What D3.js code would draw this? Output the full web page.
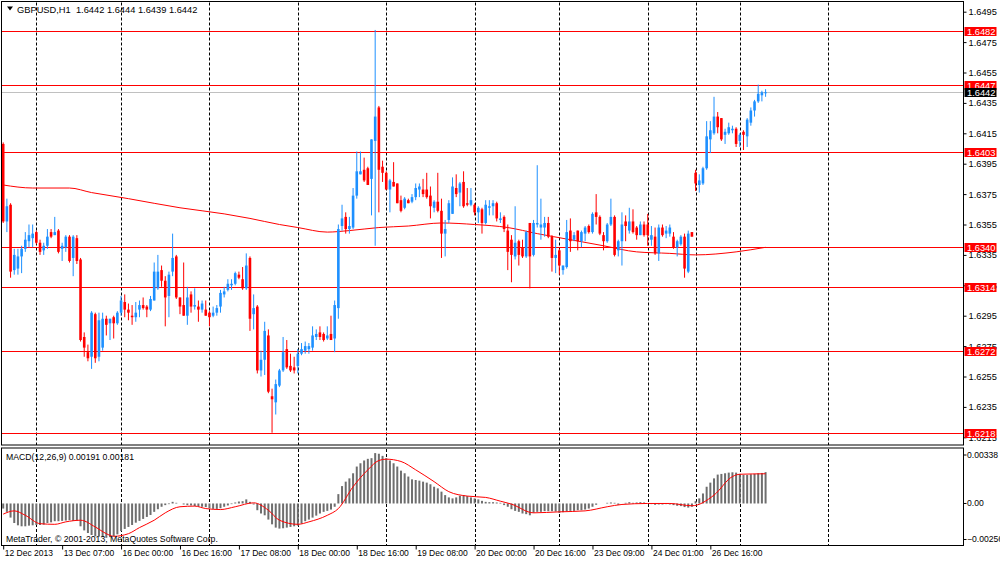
<!DOCTYPE html>
<html>
<head>
<meta charset="utf-8">
<script src="https://cdn.jsdelivr.net/npm/d3@7"></script>
<style>
  html, body { margin: 0; padding: 0; background: #fff; }
  svg { display: block; font-family: "Liberation Sans", Arial, sans-serif; font-size: 8.5px; }
</style>
</head>
<body>
<div id="container"></div>
<script>
// GBPUSD H1, 12 Dec 2013 15:00 .. 27 Dec 2013 07:00 (one value per bar)
const open = [
  1.6408, 1.6357, 1.6368, 1.6325, 1.6326, 1.6334, 1.6339, 1.6344, 1.6346, 1.6350,
  1.6343, 1.6338, 1.6341, 1.6350, 1.6348, 1.6351, 1.6339, 1.6340, 1.6347, 1.6333,
  1.6346, 1.6332, 1.6281, 1.6271, 1.6268, 1.6296, 1.6268, 1.6274, 1.6293, 1.6290,
  1.6294, 1.6290, 1.6297, 1.6304, 1.6299, 1.6295, 1.6294, 1.6299, 1.6302, 1.6301,
  1.6299, 1.6305, 1.6313, 1.6325, 1.6318, 1.6308, 1.6324, 1.6334, 1.6307, 1.6302,
  1.6295, 1.6309, 1.6301, 1.6301, 1.6299, 1.6299, 1.6297, 1.6295, 1.6297, 1.6301,
  1.6309, 1.6312, 1.6315, 1.6316, 1.6322, 1.6319, 1.6313, 1.6333, 1.6296, 1.6301,
  1.6259, 1.6266, 1.6282, 1.6242, 1.6238, 1.6249, 1.6259, 1.6273, 1.6262, 1.6261,
  1.6262, 1.6270, 1.6272, 1.6273, 1.6274, 1.6281, 1.6284, 1.6283, 1.6280, 1.6283,
  1.6280, 1.6300, 1.6354, 1.6360, 1.6352, 1.6353, 1.6374, 1.6388, 1.6391, 1.6392,
  1.6385, 1.6410, 1.6432, 1.6393, 1.6389, 1.6378, 1.6383, 1.6382, 1.6371, 1.6366,
  1.6371, 1.6370, 1.6373, 1.6378, 1.6378, 1.6378, 1.6374, 1.6366, 1.6370, 1.6364,
  1.6349, 1.6358, 1.6362, 1.6379, 1.6376, 1.6383, 1.6369, 1.6368, 1.6368, 1.6363,
  1.6365, 1.6356, 1.6366, 1.6367, 1.6369, 1.6358, 1.6360, 1.6351, 1.6345, 1.6334,
  1.6344, 1.6340, 1.6334, 1.6356, 1.6335, 1.6355, 1.6353, 1.6353, 1.6356, 1.6347,
  1.6333, 1.6338, 1.6325, 1.6327, 1.6351, 1.6345, 1.6351, 1.6344, 1.6349, 1.6354,
  1.6350, 1.6363, 1.6360, 1.6348, 1.6344, 1.6355, 1.6360, 1.6338, 1.6344, 1.6357,
  1.6351, 1.6357, 1.6353, 1.6348, 1.6355, 1.6355, 1.6345, 1.6347, 1.6336, 1.6353,
  1.6349, 1.6349, 1.6347, 1.6340, 1.6342, 1.6347, 1.6324, 1.6350, 1.6389, 1.6381,
  1.6382, 1.6392, 1.6411, 1.6415, 1.6426, 1.6425, 1.6414, 1.6415, 1.6417, 1.6418,
  1.6410, 1.6416, 1.6413, 1.6422, 1.6430, 1.6436, 1.6440, 1.6442
];
const high = [
  1.6409, 1.6372, 1.6369, 1.6339, 1.6339, 1.6341, 1.6350, 1.6355, 1.6355, 1.6351,
  1.6345, 1.6343, 1.6352, 1.6352, 1.6360, 1.6352, 1.6343, 1.6348, 1.6348, 1.6348,
  1.6348, 1.6333, 1.6284, 1.6276, 1.6298, 1.6297, 1.6297, 1.6297, 1.6295, 1.6293,
  1.6295, 1.6298, 1.6308, 1.6309, 1.6303, 1.6302, 1.6304, 1.6305, 1.6307, 1.6302,
  1.6308, 1.6330, 1.6335, 1.6328, 1.6321, 1.6324, 1.6349, 1.6335, 1.6307, 1.6330,
  1.6314, 1.6311, 1.6313, 1.6305, 1.6305, 1.6305, 1.6298, 1.6301, 1.6302, 1.6312,
  1.6314, 1.6319, 1.6319, 1.6324, 1.6324, 1.6327, 1.6336, 1.6334, 1.6309, 1.6302,
  1.6272, 1.6291, 1.6286, 1.6247, 1.6253, 1.6260, 1.6281, 1.6279, 1.6270, 1.6268,
  1.6273, 1.6277, 1.6278, 1.6277, 1.6288, 1.6286, 1.6288, 1.6284, 1.6288, 1.6295,
  1.6305, 1.6355, 1.6368, 1.6363, 1.6360, 1.6379, 1.6403, 1.6403, 1.6399, 1.6393,
  1.6411, 1.6483, 1.6433, 1.6397, 1.6390, 1.6385, 1.6396, 1.6382, 1.6374, 1.6373,
  1.6372, 1.6375, 1.6382, 1.6382, 1.6385, 1.6389, 1.6380, 1.6371, 1.6389, 1.6372,
  1.6358, 1.6371, 1.6386, 1.6388, 1.6383, 1.6390, 1.6379, 1.6379, 1.6369, 1.6367,
  1.6366, 1.6371, 1.6371, 1.6371, 1.6370, 1.6363, 1.6361, 1.6355, 1.6348, 1.6367,
  1.6345, 1.6345, 1.6351, 1.6356, 1.6358, 1.6394, 1.6372, 1.6360, 1.6360, 1.6348,
  1.6345, 1.6339, 1.6328, 1.6358, 1.6359, 1.6350, 1.6351, 1.6351, 1.6354, 1.6355,
  1.6363, 1.6375, 1.6361, 1.6350, 1.6356, 1.6372, 1.6361, 1.6345, 1.6363, 1.6361,
  1.6366, 1.6365, 1.6354, 1.6357, 1.6357, 1.6362, 1.6354, 1.6353, 1.6355, 1.6355,
  1.6354, 1.6355, 1.6350, 1.6345, 1.6348, 1.6349, 1.6351, 1.6350, 1.6391, 1.6388,
  1.6393, 1.6423, 1.6423, 1.6439, 1.6429, 1.6425, 1.6418, 1.6422, 1.6420, 1.6419,
  1.6415, 1.6417, 1.6425, 1.6432, 1.6437, 1.6447, 1.6443, 1.6444
];
const low = [
  1.6356, 1.6350, 1.6320, 1.6322, 1.6322, 1.6323, 1.6337, 1.6340, 1.6340, 1.6342,
  1.6335, 1.6335, 1.6339, 1.6346, 1.6348, 1.6336, 1.6331, 1.6337, 1.6330, 1.6321,
  1.6329, 1.6278, 1.6268, 1.6265, 1.6260, 1.6264, 1.6265, 1.6272, 1.6282, 1.6279,
  1.6280, 1.6289, 1.6295, 1.6294, 1.6292, 1.6289, 1.6291, 1.6294, 1.6299, 1.6294,
  1.6298, 1.6305, 1.6312, 1.6314, 1.6288, 1.6294, 1.6321, 1.6306, 1.6296, 1.6295,
  1.6289, 1.6297, 1.6299, 1.6291, 1.6297, 1.6295, 1.6288, 1.6294, 1.6295, 1.6297,
  1.6307, 1.6311, 1.6312, 1.6315, 1.6319, 1.6312, 1.6312, 1.6285, 1.6286, 1.6257,
  1.6255, 1.6256, 1.6244, 1.6218, 1.6230, 1.6248, 1.6258, 1.6260, 1.6258, 1.6257,
  1.6257, 1.6269, 1.6270, 1.6270, 1.6272, 1.6279, 1.6279, 1.6278, 1.6279, 1.6279,
  1.6271, 1.6293, 1.6351, 1.6349, 1.6349, 1.6352, 1.6372, 1.6388, 1.6383, 1.6381,
  1.6361, 1.6341, 1.6363, 1.6383, 1.6378, 1.6363, 1.6380, 1.6369, 1.6363, 1.6365,
  1.6369, 1.6369, 1.6371, 1.6373, 1.6373, 1.6372, 1.6359, 1.6363, 1.6363, 1.6333,
  1.6334, 1.6356, 1.6362, 1.6373, 1.6367, 1.6366, 1.6367, 1.6367, 1.6361, 1.6356,
  1.6349, 1.6355, 1.6361, 1.6361, 1.6357, 1.6356, 1.6350, 1.6325, 1.6317, 1.6332,
  1.6328, 1.6333, 1.6333, 1.6313, 1.6334, 1.6353, 1.6345, 1.6347, 1.6346, 1.6324,
  1.6323, 1.6322, 1.6322, 1.6326, 1.6337, 1.6344, 1.6338, 1.6340, 1.6344, 1.6349,
  1.6349, 1.6355, 1.6348, 1.6338, 1.6343, 1.6354, 1.6334, 1.6334, 1.6328, 1.6344,
  1.6349, 1.6349, 1.6345, 1.6348, 1.6347, 1.6341, 1.6341, 1.6335, 1.6331, 1.6347,
  1.6346, 1.6347, 1.6339, 1.6334, 1.6341, 1.6320, 1.6323, 1.6347, 1.6377, 1.6376,
  1.6381, 1.6391, 1.6402, 1.6414, 1.6415, 1.6410, 1.6408, 1.6414, 1.6415, 1.6406,
  1.6406, 1.6404, 1.6406, 1.6420, 1.6426, 1.6435, 1.6436, 1.6439
];
const close = [
  1.6357, 1.6367, 1.6324, 1.6335, 1.6334, 1.6339, 1.6345, 1.6348, 1.6349, 1.6343,
  1.6337, 1.6341, 1.6347, 1.6347, 1.6350, 1.6337, 1.6341, 1.6347, 1.6331, 1.6347,
  1.6331, 1.6279, 1.6274, 1.6267, 1.6297, 1.6267, 1.6292, 1.6293, 1.6289, 1.6293,
  1.6290, 1.6297, 1.6305, 1.6299, 1.6297, 1.6294, 1.6297, 1.6302, 1.6300, 1.6299,
  1.6306, 1.6324, 1.6324, 1.6318, 1.6307, 1.6322, 1.6333, 1.6307, 1.6301, 1.6295,
  1.6307, 1.6301, 1.6302, 1.6299, 1.6303, 1.6295, 1.6294, 1.6297, 1.6300, 1.6310,
  1.6311, 1.6316, 1.6316, 1.6323, 1.6320, 1.6313, 1.6328, 1.6293, 1.6300, 1.6259,
  1.6266, 1.6285, 1.6245, 1.6240, 1.6250, 1.6259, 1.6271, 1.6261, 1.6259, 1.6259,
  1.6270, 1.6273, 1.6275, 1.6275, 1.6282, 1.6283, 1.6281, 1.6279, 1.6282, 1.6279,
  1.6302, 1.6352, 1.6359, 1.6352, 1.6354, 1.6374, 1.6390, 1.6390, 1.6384, 1.6381,
  1.6411, 1.6426, 1.6391, 1.6389, 1.6378, 1.6384, 1.6380, 1.6369, 1.6364, 1.6372,
  1.6369, 1.6373, 1.6379, 1.6380, 1.6375, 1.6373, 1.6367, 1.6370, 1.6364, 1.6349,
  1.6352, 1.6369, 1.6380, 1.6375, 1.6382, 1.6367, 1.6368, 1.6371, 1.6363, 1.6366,
  1.6356, 1.6368, 1.6367, 1.6369, 1.6359, 1.6359, 1.6352, 1.6337, 1.6335, 1.6343,
  1.6335, 1.6334, 1.6350, 1.6334, 1.6356, 1.6356, 1.6355, 1.6356, 1.6347, 1.6333,
  1.6335, 1.6328, 1.6328, 1.6350, 1.6344, 1.6348, 1.6344, 1.6350, 1.6353, 1.6350,
  1.6362, 1.6360, 1.6349, 1.6344, 1.6355, 1.6360, 1.6335, 1.6344, 1.6355, 1.6354,
  1.6357, 1.6350, 1.6348, 1.6355, 1.6348, 1.6348, 1.6348, 1.6336, 1.6353, 1.6348,
  1.6351, 1.6353, 1.6340, 1.6344, 1.6347, 1.6326, 1.6349, 1.6347, 1.6382, 1.6384,
  1.6392, 1.6413, 1.6417, 1.6426, 1.6419, 1.6411, 1.6416, 1.6419, 1.6418, 1.6408,
  1.6414, 1.6414, 1.6424, 1.6430, 1.6436, 1.6441, 1.6442, 1.6442
];

// MACD(12,26,9) main values, one per bar
const macd = [
  -0.00031, -0.00051, -0.00086, -0.00119, -0.00133, -0.00139, -0.00139, -0.00135, -0.00133, -0.00131,
  -0.00131, -0.00129, -0.00119, -0.00115, -0.00108, -0.00108, -0.00106, -0.00104, -0.00102, -0.00106,
  -0.00106, -0.00139, -0.00164, -0.00180, -0.00192, -0.00200, -0.00202, -0.00205, -0.00209, -0.00205,
  -0.00200, -0.00188, -0.00168, -0.00155, -0.00143, -0.00131, -0.00117, -0.00106, -0.00094, -0.00082,
  -0.00070, -0.00051, -0.00035, -0.00020, -0.00010, -0.00004, 0.00010, 0.00004, 0.00000, -0.00006,
  -0.00010, -0.00012, -0.00016, -0.00018, -0.00020, -0.00022, -0.00029, -0.00033, -0.00033, -0.00029,
  -0.00020, -0.00012, -0.00004, 0.00006, 0.00012, 0.00014, 0.00025, 0.00010, -0.00006, -0.00041,
  -0.00061, -0.00072, -0.00098, -0.00127, -0.00147, -0.00153, -0.00151, -0.00147, -0.00143, -0.00139,
  -0.00135, -0.00123, -0.00108, -0.00098, -0.00086, -0.00074, -0.00061, -0.00051, -0.00045, -0.00037,
  -0.00020, 0.00057, 0.00106, 0.00133, 0.00153, 0.00184, 0.00225, 0.00245, 0.00262, 0.00272,
  0.00276, 0.00307, 0.00303, 0.00290, 0.00276, 0.00262, 0.00245, 0.00225, 0.00200, 0.00184,
  0.00164, 0.00147, 0.00143, 0.00139, 0.00133, 0.00127, 0.00117, 0.00102, 0.00092, 0.00072,
  0.00051, 0.00037, 0.00031, 0.00037, 0.00047, 0.00051, 0.00045, 0.00037, 0.00031, 0.00025,
  0.00016, 0.00010, 0.00008, 0.00008, 0.00006, 0.00004, -0.00010, -0.00020, -0.00035, -0.00045,
  -0.00051, -0.00061, -0.00065, -0.00072, -0.00057, -0.00051, -0.00051, -0.00047, -0.00047, -0.00047,
  -0.00049, -0.00057, -0.00053, -0.00047, -0.00045, -0.00045, -0.00041, -0.00041, -0.00037, -0.00031,
  -0.00020, -0.00008, 0.00000, 0.00000, 0.00004, 0.00006, 0.00004, -0.00008, 0.00000, 0.00004,
  0.00008, 0.00004, 0.00006, 0.00008, 0.00006, 0.00000, -0.00004, -0.00008, -0.00006, -0.00006,
  -0.00004, -0.00006, -0.00010, -0.00014, -0.00016, -0.00022, -0.00025, -0.00020, 0.00014, 0.00031,
  0.00061, 0.00102, 0.00127, 0.00153, 0.00176, 0.00180, 0.00184, 0.00188, 0.00190, 0.00188,
  0.00180, 0.00174, 0.00174, 0.00178, 0.00180, 0.00184, 0.00186, 0.00191
];

// MACD signal line, read at these bars
const signalBars = [0, 3, 6, 10, 14, 17, 21, 25, 28, 30, 34, 37, 41, 44, 48, 52, 55, 59, 63, 68,
  72, 75, 80, 83, 88, 91, 95, 99, 102, 104, 108, 112, 117, 121, 126, 131, 135, 138, 144, 151,
  158, 164, 168, 175, 181, 187, 193, 198, 200, 207];
const signalValues = [-0.00065, -0.00045, -0.00072, -0.00123, -0.00127, -0.00112, -0.00102, -0.00143, -0.00184, -0.00200,
  -0.00184, -0.00147, -0.00102, -0.00057, -0.00020, -0.00016, -0.00031, -0.00037, -0.00020, 0.00004,
  -0.00041, -0.00102, -0.00127, -0.00112, -0.00072, -0.00031, 0.00102, 0.00205, 0.00262, 0.00270,
  0.00256, 0.00205, 0.00133, 0.00072, 0.00045, 0.00037, 0.00014, -0.00004, -0.00057, -0.00051,
  -0.00045, -0.00020, -0.00006, 0.00000, 0.00000, -0.00014, 0.00051, 0.00164, 0.00178, 0.00181];

// moving average on the price chart, read at these bars
const maBars = [0, 8, 18, 24, 29, 34, 48, 60, 67, 75, 80, 88, 94, 102, 110, 119, 128, 137, 145, 154,
  163, 172, 181, 188, 199, 207];
const maValues = [1.6381, 1.6379, 1.6379, 1.6376, 1.6374, 1.6372, 1.6366, 1.6362, 1.6359, 1.6355,
  1.6353, 1.6350, 1.6351, 1.6353, 1.6354, 1.6356, 1.6355, 1.6353, 1.6349, 1.6345,
  1.6341, 1.6337, 1.6336, 1.6335, 1.6337, 1.6340];

// horizontal levels
const levels = [1.6482, 1.6447, 1.6403, 1.6340, 1.6314, 1.6272, 1.6218];

// price scale labels
const priceTicks = [1.6495, 1.6475, 1.6455, 1.6435, 1.6415, 1.6395, 1.6375, 1.6355, 1.6335,
  1.6315, 1.6295, 1.6275, 1.6255, 1.6235, 1.6215];
const macdTicks = [0.00338, 0, -0.00256];

// time scale labels, one every 16 bars
const timeLabels = ["12 Dec 2013", "13 Dec 07:00", "16 Dec 00:00", "16 Dec 16:00", "17 Dec 08:00",
  "18 Dec 00:00", "18 Dec 16:00", "19 Dec 08:00", "20 Dec 00:00", "20 Dec 16:00",
  "23 Dec 09:00", "24 Dec 01:00", "26 Dec 16:00"];

// bars in each trading day (first day starts at 15:00; the last entry is the full session ahead)
const sessionBars = [9, 23, 24, 24, 24, 24, 23, 24, 13, 12, 24];

const width = 1000;
const height = 562;
const left = 1.5;
const right = 963.5;
const mainTop = 1.5;
const mainBottom = 445;
const subTop = 448;
const subBottom = 545.5;

const n = close.length;
const last = n - 1;
const fmt4 = d3.format(".4f");
const fmt5 = d3.format(".5f");

const x = d3.scaleLinear()
  .domain([0, last])
  .range([3.2, 3.2 + last * 3.683]);

const y = d3.scaleLinear()
  .domain([1.6215, 1.6495])
  .range([437.3, 11.7]);

const ym = d3.scaleLinear()
  .domain([-0.00256, 0.00338])
  .range([subBottom, subTop]);

const svg = d3.create("svg")
  .attr("width", width)
  .attr("height", height);

svg.append("rect").attr("width", width).attr("height", height).attr("fill", "#fff");

const defs = svg.append("defs");
defs.append("clipPath").attr("id", "clip-main")
  .append("rect")
  .attr("x", left).attr("y", mainTop)
  .attr("width", right - left).attr("height", mainBottom - mainTop);
defs.append("clipPath").attr("id", "clip-sub")
  .append("rect")
  .attr("x", left).attr("y", subTop)
  .attr("width", right - left).attr("height", subBottom - subTop);

// day separators
const sepX = Array.from(d3.cumsum(sessionBars), d => Math.round(x(d)) + 0.5);

[[mainTop, mainBottom], [subTop, subBottom]].forEach(([t, b]) => {
  svg.append("g")
    .attr("stroke", "#000")
    .attr("stroke-dasharray", "3,2")
    .selectAll("line")
    .data(sepX)
    .join("line")
    .attr("x1", d => d).attr("x2", d => d)
    .attr("y1", t + 1).attr("y2", b);
});

const main = svg.append("g").attr("clip-path", "url(#clip-main)");

// levels and bid line
main.append("g")
  .attr("stroke", "#ff0000")
  .selectAll("line")
  .data(levels)
  .join("line")
  .attr("x1", left).attr("x2", right)
  .attr("y1", d => Math.round(y(d)) + 0.5)
  .attr("y2", d => Math.round(y(d)) + 0.5);

main.append("line")
  .attr("stroke", "#c0c0c0")
  .attr("x1", left).attr("x2", right)
  .attr("y1", Math.round(y(close[last])) + 0.5)
  .attr("y2", Math.round(y(close[last])) + 0.5);

// moving average
main.append("path")
  .datum(maBars.map((b, k) => [b, maValues[k]]))
  .attr("fill", "none")
  .attr("stroke", "#ff0000")
  .attr("stroke-width", 1)
  .attr("d", d3.line().x(d => x(d[0])).y(d => y(d[1])).curve(d3.curveMonotoneX));

// candles
const bars = d3.range(n);
const color = i => close[i] >= open[i] ? "#1e90ff" : "#ff0000";

main.append("g")
  .selectAll("line")
  .data(bars)
  .join("line")
  .attr("stroke", color)
  .attr("x1", i => x(i)).attr("x2", i => x(i))
  .attr("y1", i => y(high[i])).attr("y2", i => y(low[i]));

main.append("g")
  .selectAll("rect")
  .data(bars)
  .join("rect")
  .attr("fill", color)
  .attr("x", i => x(i) - 1.3)
  .attr("width", 2.6)
  .attr("y", i => y(Math.max(open[i], close[i])))
  .attr("height", i => Math.max(1, Math.abs(y(open[i]) - y(close[i]))));

// MACD window
const sub = svg.append("g").attr("clip-path", "url(#clip-sub)");

sub.append("g")
  .attr("fill", "#6e6e6e")
  .selectAll("rect")
  .data(bars)
  .join("rect")
  .attr("x", i => x(i) - 1)
  .attr("width", 2)
  .attr("y", i => Math.min(ym(0), ym(macd[i])))
  .attr("height", i => Math.abs(ym(macd[i]) - ym(0)));

sub.append("path")
  .datum(signalBars.map((b, k) => [b, signalValues[k]]))
  .attr("fill", "none")
  .attr("stroke", "#ff0000")
  .attr("stroke-width", 1)
  .attr("d", d3.line().x(d => x(d[0])).y(d => ym(d[1])).curve(d3.curveMonotoneX));

// frames
svg.append("g")
  .attr("fill", "none")
  .attr("stroke", "#000")
  .selectAll("rect")
  .data([[mainTop, mainBottom], [subTop, subBottom]])
  .join("rect")
  .attr("x", left).attr("y", d => d[0])
  .attr("width", right - left).attr("height", d => d[1] - d[0]);

// price axis
const priceAxis = svg.append("g")
  .attr("transform", `translate(${right},0)`)
  .call(d3.axisRight(y).tickValues(priceTicks).tickSize(3).tickSizeOuter(0).tickFormat(fmt4))
  .attr("font-family", null)
  .attr("font-size", "9.3px");
priceAxis.select(".domain").remove();
priceAxis.selectAll(".tick text").attr("x", 5);

// MACD axis
const macdAxis = svg.append("g")
  .attr("transform", `translate(${right},0)`)
  .call(d3.axisRight(ym).tickValues(macdTicks).tickSize(3).tickSizeOuter(0)
    .tickFormat(d => d === 0 ? "0.00" : fmt5(d)))
  .attr("font-family", null)
  .attr("font-size", "8.6px");
macdAxis.select(".domain").remove();
macdAxis.selectAll(".tick text").attr("x", 3.5);
macdAxis.selectAll(".tick")
  .attr("transform", d => {
    const shift = d === macdTicks[0] ? 7 : d === macdTicks[2] ? -6 : 0;
    return `translate(0,${ym(d) + shift})`;
  });

// level price boxes
const boxes = svg.append("g").attr("font-size", "9.3px");
const box = (v, fill) => {
  const cy = Math.round(y(v)) + 0.5;
  boxes.append("rect")
    .attr("x", right + 1).attr("y", cy - 4.5)
    .attr("width", 32).attr("height", 9)
    .attr("fill", fill);
  boxes.append("text")
    .attr("x", right + 3.5).attr("y", cy + 3.4)
    .attr("fill", "#fff")
    .text(fmt4(v));
};
levels.forEach(v => box(v, "#ff0000"));
box(close[last], "#000");

// time axis
const timeAxis = svg.append("g")
  .attr("transform", `translate(0,${subBottom})`)
  .call(d3.axisBottom(x)
    .tickValues(timeLabels.map((_, k) => k * 16))
    .tickSize(4)
    .tickSizeOuter(0)
    .tickFormat((d, k) => timeLabels[k]))
  .attr("font-family", null)
  .attr("font-size", null);
timeAxis.select(".domain").remove();
timeAxis.selectAll(".tick text")
  .attr("text-anchor", "start")
  .attr("x", 1)
  .attr("y", 4);

// titles
svg.append("path")
  .attr("d", "M7,6.5 L13,6.5 L10,10.5 Z")
  .attr("fill", "#000");
svg.append("text")
  .attr("x", 17).attr("y", 13)
  .attr("font-size", "9.3px")
  .text(`GBPUSD,H1\u00a0\u00a0${fmt4(open[last])} ${fmt4(high[last])} ${fmt4(low[last])} ${fmt4(close[last])}`);

svg.append("text")
  .attr("x", 6).attr("y", 460)
  .attr("font-size", "8.7px")
  .text(`MACD(12,26,9) ${fmt5(macd[last])} ${fmt5(signalValues[signalValues.length - 1])}`);

svg.append("text")
  .attr("x", 6).attr("y", 542)
  .attr("font-size", "8.7px")
  .text("MetaTrader, © 2001-2013, MetaQuotes Software Corp.");

d3.select("#container").append(() => svg.node());
</script>
</body>
</html>
